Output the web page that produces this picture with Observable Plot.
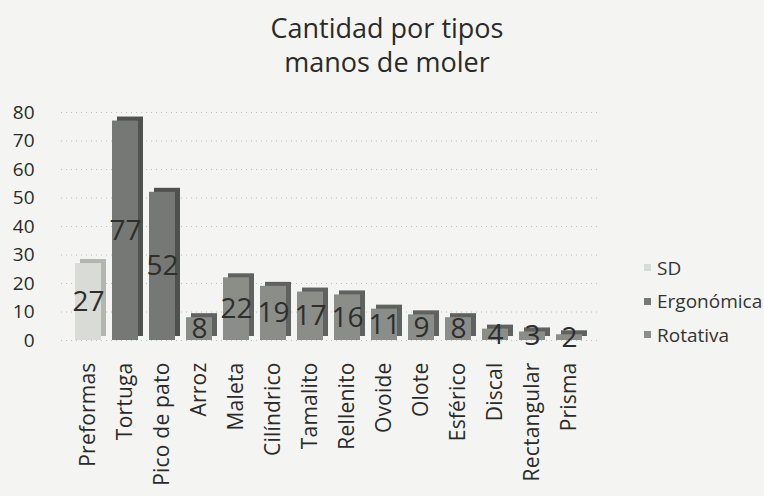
<!DOCTYPE html>
<html><head><meta charset="utf-8">
<script src="https://cdn.jsdelivr.net/npm/d3@7"></script>
<script src="https://cdn.jsdelivr.net/npm/@observablehq/plot@0.6"></script>
<style>
body{margin:0;background:#f4f5f2;font-family:"Open Sans",sans-serif;}
#wrap{position:relative;width:764px;height:496px;overflow:hidden;background:#f4f5f2;}
#title{position:absolute;left:187px;top:11px;width:400px;text-align:center;font-size:27px;line-height:34px;color:#2a2a2a;}
#chart{position:absolute;left:0;top:92px;}
#legend{position:absolute;left:644px;top:251px;font-size:19px;color:#333;}
#legend div{height:33.5px;display:flex;align-items:center;}
#legend span.sw{display:inline-block;width:7px;height:7px;margin-right:6px;}
.xax text{letter-spacing:0.2px;}
</style></head>
<body><div id="wrap">
<div id="title">Cantidad por tipos<br>manos de moler</div>
<div id="chart"></div>
<div id="legend"></div>
</div>
<script>
const categories = ["Preformas","Tortuga","Pico de pato","Arroz","Maleta","Cilíndrico","Tamalito","Rellenito","Ovoide","Olote","Esférico","Discal","Rectangular","Prisma"];
const values = [27,77,52,8,22,19,17,16,11,9,8,4,3,2];
const seriesOf = ["SD","Ergonómica","Ergonómica","Rotativa","Rotativa","Rotativa","Rotativa","Rotativa","Rotativa","Rotativa","Rotativa","Rotativa","Rotativa","Rotativa"];
const seriesNames = ["SD","Ergonómica","Rotativa"];
const seriesColors = ["#d9dbd7","#767875","#8b8d89"];
const sideColors = ["#b3b5b1","#4f514e","#60625f"];
const yTicks = [0,10,20,30,40,50,60,70,80];

const data = categories.map((c,i)=>({cat:c,value:values[i],series:seriesOf[i]}));
const col = d3.scaleOrdinal(seriesNames, seriesColors);
const side = d3.scaleOrdinal(seriesNames, sideColors);

const plot = Plot.plot({
  width: 620, height: 404,
  marginLeft: 61, marginRight: 23, marginTop: 20, marginBottom: 156,
  style:{background:"transparent", fontFamily:"Open Sans, sans-serif"},
  x:{domain:categories, padding:0.29, label:null},
  y:{domain:[0,80], ticks:yTicks, label:null},
  marks:[
    Plot.ruleY(yTicks,{stroke:"#9a9a9a",strokeDasharray:"1,4",strokeOpacity:0.6}),
    Plot.barY(data,{x:"cat",y:"value",fill:d=>side(d.series),dx:5,dy:-4}),
    Plot.barY(data,{x:"cat",y:"value",fill:d=>col(d.series)}),
    Plot.text(data,{x:"cat",y:d=>d.value/2,text:d=>String(d.value),fontSize:28,fill:"#2e2e2e"}),
    Plot.axisX({tickSize:0,tickRotate:-90,tickPadding:22,fontSize:21,fill:"#2a2a2a",label:null,className:"xax"}),
    Plot.axisY({ticks:yTicks,tickSize:0,tickPadding:27,fontSize:19,fill:"#2a2a2a",label:null})
  ]
});
document.getElementById("chart").appendChild(plot);

const leg = document.getElementById("legend");
seriesNames.forEach((s,i)=>{
  const row=document.createElement("div");
  row.innerHTML=`<span class="sw" style="background:${seriesColors[i]}"></span>${s}`;
  leg.appendChild(row);
});
</script>
</body></html>
